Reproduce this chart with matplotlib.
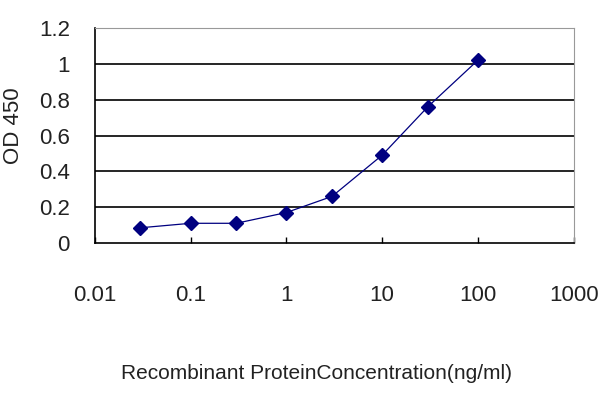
import matplotlib
matplotlib.use('Agg')
import matplotlib.pyplot as plt
from matplotlib.ticker import FixedLocator, NullLocator

plt.rcParams['font.family'] = ['Liberation Sans', 'DejaVu Sans']

# data
conc = [0.03, 0.1, 0.3, 1, 3, 10, 30, 100]
od = [0.085, 0.11, 0.11, 0.17, 0.26, 0.49, 0.76, 1.02]
x_ticks = [0.01, 0.1, 1, 10, 100, 1000]
x_tick_labels = ['0.01', '0.1', '1', '10', '100', '1000']
y_ticks = [0, 0.2, 0.4, 0.6, 0.8, 1, 1.2]
y_tick_labels = ['0', '0.2', '0.4', '0.6', '0.8', '1', '1.2']

fig = plt.figure(figsize=(6, 4), dpi=100)
ax = fig.add_axes([0.158, 0.3925, 0.798, 0.5375])

ax.plot(conc, od, color='#000080', lw=0.9, marker='D', ms=7,
        mfc='#000080', mec='#000080', zorder=3)

ax.set_xscale('log')
ax.set_xlim(0.01, 1000)
ax.set_ylim(0, 1.2)
ax.xaxis.set_major_locator(FixedLocator(x_ticks))
ax.xaxis.set_minor_locator(NullLocator())
ax.set_xticklabels(x_tick_labels)
ax.set_yticks(y_ticks)
ax.set_yticklabels(y_tick_labels)

for y in y_ticks[1:]:
    ax.axhline(y, color='black', lw=1.2, zorder=1)

ax.tick_params(axis='x', direction='in', length=4, width=1, pad=30, labelsize=16, colors='black')
ax.tick_params(axis='y', length=0, pad=18, labelsize=16)
for lab in ax.get_xticklabels() + ax.get_yticklabels():
    lab.set_color('#222222')

ax.spines['left'].set_color('black')
ax.spines['bottom'].set_color('black')
ax.spines['left'].set_linewidth(1.2)
ax.spines['bottom'].set_linewidth(1.2)
ax.spines['top'].set_color('#999999')
ax.spines['right'].set_color('#999999')

fig.text(0.022, 0.685, 'OD 450', rotation=90, ha='center', va='center',
         fontsize=16, color='#222222')
fig.text(0.527, 0.067, 'Recombinant ProteinConcentration(ng/ml)', ha='center',
         va='center', fontsize=15, color='#222222')

fig.savefig('out.png', dpi=100)
